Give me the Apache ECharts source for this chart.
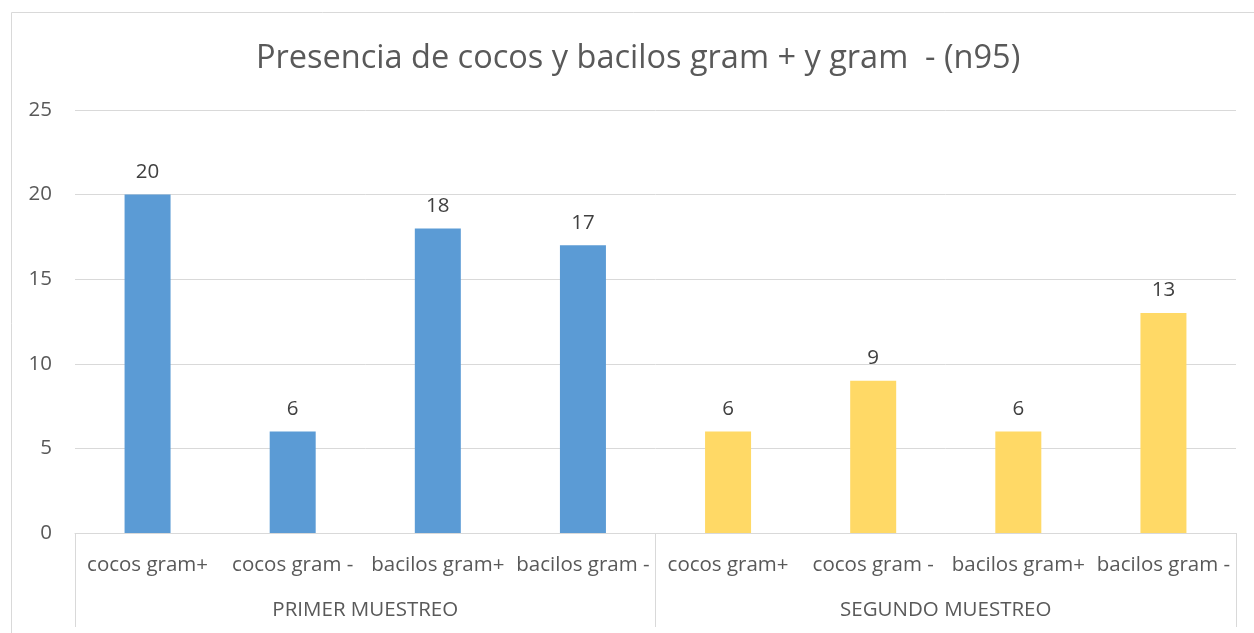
<!DOCTYPE html>
<html>
<head>
<meta charset="utf-8">
<script src="https://cdn.jsdelivr.net/npm/echarts@6/dist/echarts.min.js"></script>
<style>
  html, body { margin: 0; padding: 0; background: #fff; }
  #chart { width: 1254px; height: 633px; }
</style>
</head>
<body>
<div id="chart"></div>
<script>
// chart data
const chartTitle = 'Presencia de cocos y bacilos gram + y gram  - (n95)';
const categories = ['cocos gram+', 'cocos gram -', 'bacilos gram+', 'bacilos gram -',
                    'cocos gram+', 'cocos gram -', 'bacilos gram+', 'bacilos gram -'];
const groups = ['PRIMER MUESTREO', 'SEGUNDO MUESTREO'];
const primerValues = [20, 6, 18, 17];
const segundoValues = [6, 9, 6, 13];
const yTicks = [0, 5, 10, 15, 20, 25];

const font = '"Open Sans", sans-serif';
const textColor = '#595959';

// pad each group so it sits in its own half of the axis
const primerData = primerValues.concat(segundoValues.map(() => '-'));
const segundoData = primerValues.map(() => '-').concat(segundoValues);

const chart = echarts.init(document.getElementById('chart'));
chart.setOption({
    animation: false,
    textStyle: { fontFamily: font },
    title: {
        text: chartTitle,
        left: 251,
        top: 37,
        textStyle: { fontSize: 32.5, fontWeight: 'normal', color: textColor, fontFamily: font }
    },
    graphic: [{
        type: 'rect',
        shape: { x: 11.5, y: 12.5, width: 1300, height: 700 },
        style: { fill: 'none', stroke: '#D9D9D9', lineWidth: 1 },
        silent: true
    }],
    grid: { left: 75, right: 18, top: 110, bottom: 100 },
    xAxis: [{
        type: 'category',
        data: categories,
        axisLine: { lineStyle: { color: '#D9D9D9' } },
        axisTick: { show: false },
        axisLabel: { color: textColor, fontSize: 20.5, margin: 22, interval: 0, fontFamily: font }
    }, {
        type: 'category',
        data: groups,
        position: 'bottom',
        axisLine: { show: false },
        axisTick: { show: true, length: 94, lineStyle: { color: '#D9D9D9' } },
        axisLabel: { color: textColor, fontSize: 20.5, margin: 67, fontFamily: font }
    }],
    yAxis: {
        type: 'value',
        min: yTicks[0],
        max: yTicks[yTicks.length - 1],
        interval: yTicks[1] - yTicks[0],
        axisLine: { show: false },
        axisTick: { show: false },
        splitLine: { lineStyle: { color: '#D9D9D9' } },
        axisLabel: { color: textColor, fontSize: 20.5, margin: 23, fontFamily: font }
    },
    series: [{
        type: 'bar',
        name: groups[0],
        data: primerData,
        stack: 'all',
        barWidth: 46,
        itemStyle: { color: '#5B9BD5' },
        label: { show: true, position: 'top', distance: 12, color: '#404040', fontSize: 20.5, fontFamily: font }
    }, {
        type: 'bar',
        name: groups[1],
        data: segundoData,
        stack: 'all',
        barWidth: 46,
        itemStyle: { color: '#FFD966' },
        label: { show: true, position: 'top', distance: 12, color: '#404040', fontSize: 20.5, fontFamily: font }
    }]
});
</script>
</body>
</html>
